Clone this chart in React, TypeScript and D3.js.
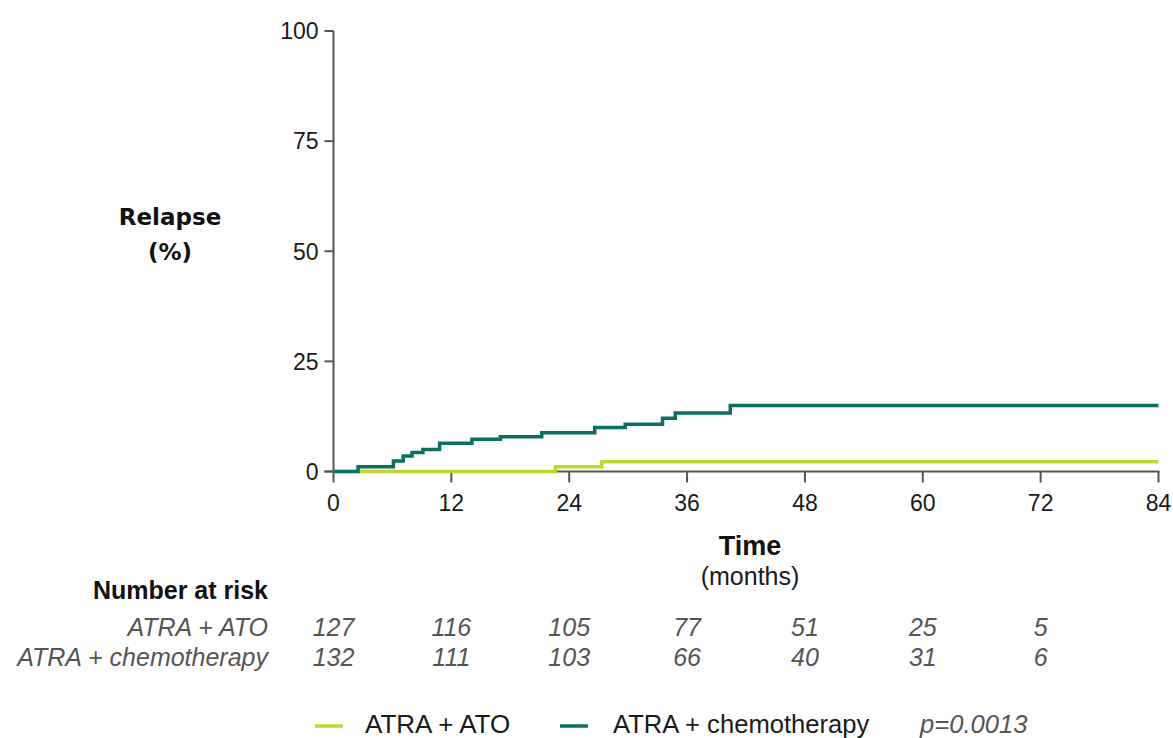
import React from "react";
import * as d3 from "d3";

// Cumulative incidence of relapse (%), step changes: [month, value]
const atoSteps: [number, number][] = [
  [0, 0],
  [22.6, 1.1],
  [27.3, 2.2],
  [84, 2.2],
];
const chemoSteps: [number, number][] = [
  [0, 0],
  [2.5, 1.1],
  [6.1, 2.4],
  [7.1, 3.5],
  [8.0, 4.3],
  [9.1, 5.0],
  [10.8, 6.4],
  [14.1, 7.3],
  [17.0, 7.9],
  [21.2, 8.8],
  [26.6, 10.0],
  [29.7, 10.7],
  [33.5, 12.1],
  [34.8, 13.3],
  [40.4, 15.0],
  [84, 15.0],
];

const xTicks = [0, 12, 24, 36, 48, 60, 72, 84];
const yTicks = [0, 25, 50, 75, 100];
const riskAto = [127, 116, 105, 77, 51, 25, 5];
const riskChemo = [132, 111, 103, 66, 40, 31, 6];
const riskTimes = [0, 12, 24, 36, 48, 60, 72];

const LIME = "#c2d631";
const TEAL = "#0a705f";
const AXIS = "#555555";
const TEXT = "#1a1a1a";
const GRAY = "#555555";
const FONT = "'Liberation Sans', Arial, sans-serif";

export default function App() {
  const x = d3.scaleLinear().domain([0, 84]).range([333.5, 1158.5]);
  const y = d3.scaleLinear().domain([0, 100]).range([471.5, 31]);
  const line = d3
    .line<[number, number]>()
    .x((d) => x(d[0]))
    .y((d) => y(d[1]))
    .curve(d3.curveStepAfter);

  return (
    <svg
      width={1173}
      height={738}
      style={{ position: "absolute", left: 0, top: 0, background: "#fff" }}
      fontFamily={FONT}
    >
      {/* y axis */}
      <line x1={x(0)} x2={x(0)} y1={y(100)} y2={y(0)} stroke={AXIS} strokeWidth={2} />
      {yTicks.map((t) => (
        <g key={t}>
          <line x1={x(0) - 9} x2={x(0)} y1={y(t)} y2={y(t)} stroke={AXIS} strokeWidth={2} />
          <text x={x(0) - 15} y={y(t)} dy="0.36em" textAnchor="end" fontSize={23} fill={TEXT}>
            {t}
          </text>
        </g>
      ))}
      {/* x axis */}
      <line x1={x(0) - 9} x2={x(84) + 1} y1={y(0)} y2={y(0)} stroke={AXIS} strokeWidth={2} />
      {xTicks.map((t) => (
        <g key={t}>
          <line x1={x(t)} x2={x(t)} y1={y(0)} y2={y(0) + 11} stroke={AXIS} strokeWidth={2} />
          <text x={x(t)} y={511} textAnchor="middle" fontSize={23} fill={TEXT}>
            {t}
          </text>
        </g>
      ))}

      {/* curves */}
      <path d={line(atoSteps) || ""} fill="none" stroke={LIME} strokeWidth={3.5} />
      <path d={line(chemoSteps) || ""} fill="none" stroke={TEAL} strokeWidth={3.5} />

      {/* axis titles */}
      <text x={170} y={225} textAnchor="middle" fontSize={23} fontWeight="bold" fontFamily="'DejaVu Sans', Verdana, sans-serif" fill="#111">
        Relapse
      </text>
      <text x={170} y={260} textAnchor="middle" fontSize={23} fontWeight="bold" fontFamily="'DejaVu Sans', Verdana, sans-serif" fill="#111">
        (%)
      </text>
      <text x={750} y={555} textAnchor="middle" fontSize={27} fontWeight="bold" fill="#111">
        Time
      </text>
      <text x={750} y={585} textAnchor="middle" fontSize={25} fill={TEXT}>
        (months)
      </text>

      {/* number at risk table */}
      <text x={268} y={599} textAnchor="end" fontSize={25} fontWeight="bold" fill="#111">
        Number at risk
      </text>
      <text x={268} y={636} textAnchor="end" fontSize={25} fontStyle="italic" fill={GRAY}>
        ATRA + ATO
      </text>
      <text x={268} y={666} textAnchor="end" fontSize={25} fontStyle="italic" fill={GRAY}>
        ATRA + chemotherapy
      </text>
      {riskTimes.map((t, i) => (
        <g key={t}>
          <text x={x(t)} y={636} textAnchor="middle" fontSize={25} fontStyle="italic" fill={GRAY}>
            {riskAto[i]}
          </text>
          <text x={x(t)} y={666} textAnchor="middle" fontSize={25} fontStyle="italic" fill={GRAY}>
            {riskChemo[i]}
          </text>
        </g>
      ))}

      {/* legend */}
      <line x1={315} x2={343} y1={726} y2={726} stroke={LIME} strokeWidth={3.5} />
      <text x={365} y={733} fontSize={26} fill={TEXT}>
        ATRA + ATO
      </text>
      <line x1={560} x2={588} y1={726} y2={726} stroke={TEAL} strokeWidth={3.5} />
      <text x={613} y={733} fontSize={25.6} fill={TEXT}>
        ATRA + chemotherapy
      </text>
      <text x={920} y={733} fontSize={25.6} fontStyle="italic" fill={GRAY}>
        p=0.0013
      </text>
    </svg>
  );
}
